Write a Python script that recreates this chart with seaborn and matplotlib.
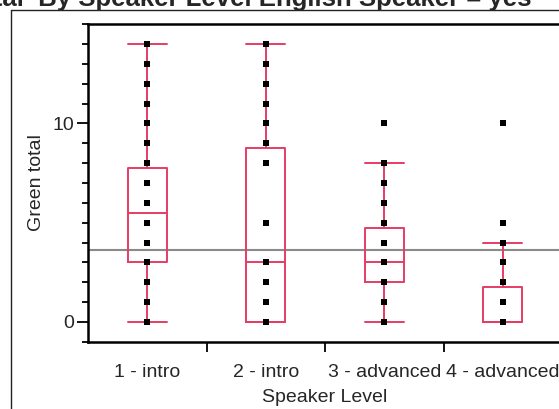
import numpy as np
import pandas as pd
import matplotlib
matplotlib.use("Agg")
import matplotlib.pyplot as plt
import seaborn as sns
from matplotlib.lines import Line2D
from matplotlib.ticker import MultipleLocator, FixedLocator

# ---- data ----
levels = ["1 - intro", "2 - intro", "3 - advanced", "4 - advanced"]
intro1 = [0, 1, 1, 2, 2, 3, 3, 3, 4, 4, 4, 5, 5, 6, 6, 6, 7, 7, 7, 8, 9, 10, 11, 12, 13, 14]
intro2 = [0, 0, 0, 0, 0, 0, 0, 1, 2, 2, 3, 3, 5, 5, 5, 8, 9, 10, 11, 12, 13, 14]
advanced3 = [0, 0, 1, 1, 2, 2, 2, 3, 3, 3, 3, 4, 4, 5, 6, 7, 8, 10]
advanced4 = [0, 0, 0, 0, 0, 0, 0, 0, 0, 0, 1, 1, 1, 2, 3, 4, 5, 10]
grand_mean = 3.6
y_major = [0, 10]
title_prefix = "Oneway Analysis of Green total  "
title_rest = "By Speaker Level English Speaker = yes"

groups = [intro1, intro2, advanced3, advanced4]
df = pd.DataFrame({
    "Speaker Level": sum([[lv] * len(g) for lv, g in zip(levels, groups)], []),
    "Green total": sum(groups, []),
})

sns.set_style("ticks")
plt.rcParams["font.family"] = ["Liberation Sans", "DejaVu Sans"]

red = "#E63C64"
fs = 14
W, H = 559, 409
fig = plt.figure(figsize=(W / 100, H / 100), dpi=100)
ax = fig.add_axes([88 / W, 1 - 341.7 / H, 474 / W, 317.4 / H])

ax.axhline(grand_mean, color="#8a8a8a", lw=1.5, zorder=1)
sns.boxplot(data=df, x="Speaker Level", y="Green total", order=levels, ax=ax,
            fill=False, color=red, linecolor=red, width=0.33, linewidth=1.4,
            whis=1.5, showfliers=False, capwidths=0.33, zorder=2)
sns.stripplot(data=df, x="Speaker Level", y="Green total", order=levels, ax=ax,
              jitter=False, marker="s", size=3.8, color="black", linewidth=0,
              zorder=3)

ax.set_xlim(-0.5, 3.5)
ax.set_ylim(-1, 15)
ax.yaxis.set_major_locator(FixedLocator(y_major))
ax.yaxis.set_minor_locator(MultipleLocator(1))
ax.xaxis.set_minor_locator(FixedLocator([0.5, 1.5, 2.5]))
ax.tick_params(axis="y", which="major", length=8, width=1.3, labelsize=fs, pad=2, color="black")
ax.tick_params(axis="y", which="minor", length=4.5, width=1.3, color="black")
ax.tick_params(axis="x", which="major", length=0, labelsize=fs, pad=16)
ax.tick_params(axis="x", which="minor", length=7, width=1.3, color="black")
for s in ax.spines.values():
    s.set_visible(True)
    s.set_linewidth(1.8)
    s.set_color("black")
ax.set_ylabel("Green total", fontsize=fs, labelpad=5)
ax.set_xlabel("Speaker Level", fontsize=fs, labelpad=6)

# outer report frame
fig.add_artist(Line2D([11 / W, 1], [1 - 10 / H, 1 - 10 / H], color="#222222", lw=1.0))
fig.add_artist(Line2D([11 / W, 11 / W], [0, 1 - 10 / H], color="#222222", lw=1.0))

# clipped title: place so that "By" starts near x=38 px
tfs = 18.5
renderer = fig.canvas.get_renderer()
tmp = fig.text(0, 0, title_prefix, fontsize=tfs, fontweight="bold")
pw = tmp.get_window_extent(renderer).width
tmp.remove()
fig.text((38 - pw) / W, 1 - 6 / H, title_prefix + title_rest, fontsize=tfs,
         fontweight="bold", ha="left", va="baseline")

fig.savefig("out.png", dpi=100)
